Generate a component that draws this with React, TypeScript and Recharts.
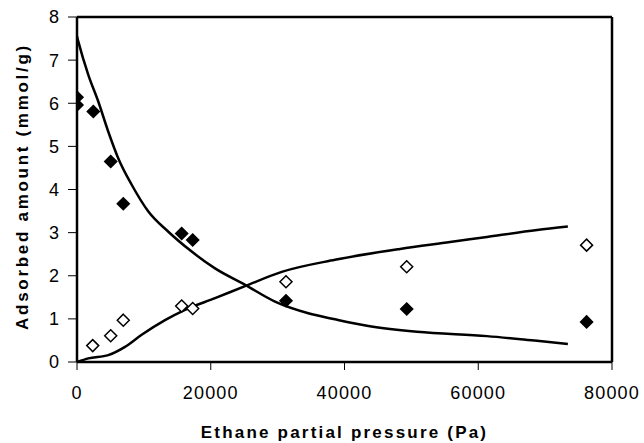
import React from 'react';
import { ComposedChart, XAxis, YAxis, Line, Scatter, ReferenceLine, Label } from 'recharts';

const xTicks = [0, 20000, 40000, 60000, 80000];
const yTicks = [0, 1, 2, 3, 4, 5, 6, 7, 8];

const filledX = [0, 0, 2440, 5040, 6920, 15650, 17300, 31250, 49300, 76200];
const filledY = [6.14, 5.96, 5.81, 4.65, 3.67, 2.98, 2.83, 1.42, 1.23, 0.93];

const openX = [2350, 5040, 6920, 15650, 17300, 31250, 49300, 76200];
const openY = [0.38, 0.61, 0.97, 1.3, 1.24, 1.86, 2.21, 2.71];

const decX = [0, 200, 1690, 3180, 4680, 6180, 8180, 10670, 13660, 17150, 20640, 25130, 29610, 34590, 38580, 43370, 50840, 61300, 68800, 73400];
const decY = [7.55, 7.43, 6.66, 6.04, 5.34, 4.72, 4.11, 3.49, 3.02, 2.56, 2.17, 1.79, 1.4, 1.13, 0.99, 0.84, 0.7, 0.6, 0.49, 0.42];

const incX = [0, 1690, 4680, 7180, 9670, 13160, 16150, 20640, 25130, 30610, 38580, 48300, 55780, 61300, 68800, 73400];
const incY = [0, 0.085, 0.16, 0.35, 0.63, 0.97, 1.21, 1.48, 1.76, 2.09, 2.37, 2.62, 2.78, 2.9, 3.06, 3.14];

const zip = (xs: number[], ys: number[]) => xs.map((x, i) => ({ x, y: ys[i] }));
const filledData = zip(filledX, filledY);
const openData = zip(openX, openY);
const decData = zip(decX, decY);
const incData = zip(incX, incY);

const FONT = '"Liberation Sans", Arial, sans-serif';

const Diamond = (props: any) => {
  const { cx, cy, fill, stroke } = props;
  const r = 6;
  return (
    <polygon
      points={`${cx},${cy - r} ${cx + r},${cy} ${cx},${cy + r} ${cx - r},${cy}`}
      fill={fill}
      stroke={stroke}
      strokeWidth={1.5}
    />
  );
};

const XTitle = (props: any) => {
  const vb = props.viewBox;
  return (
    <text x={vb.x + vb.width / 2} y={vb.y + 76} textAnchor="middle" fontFamily={FONT} fontWeight="bold" fontSize={17} letterSpacing={2.2} fill="#000">
      Ethane partial pressure (Pa)
    </text>
  );
};

const YTitle = (props: any) => {
  const vb = props.viewBox;
  const cx = 28;
  const cy = vb.y + vb.height / 2 - 3;
  return (
    <text x={cx} y={cy} transform={`rotate(-90, ${cx}, ${cy})`} textAnchor="middle" fontFamily={FONT} fontWeight="bold" fontSize={17} letterSpacing={2.7} fill="#000">
      Adsorbed amount (mmol/g)
    </text>
  );
};

export default function App() {
  return (
    <div style={{ position: 'absolute', left: 0, top: 0, background: '#fff' }}>
      <ComposedChart width={644} height={443} margin={{ top: 17, right: 32, bottom: 0, left: 0 }}>
        <XAxis
          type="number"
          dataKey="x"
          domain={[0, 80000]}
          ticks={xTicks}
          interval={0}
          allowDataOverflow
          height={81}
          axisLine={{ stroke: '#000', strokeWidth: 2.5 }}
          tickLine={{ stroke: '#000', strokeWidth: 1 }}
          tickSize={8}
          tickMargin={16}
          tick={{ fill: '#000', fontSize: 18, fontFamily: FONT, letterSpacing: 1.2 }}
        >
          <Label content={<XTitle />} />
        </XAxis>
        <YAxis
          type="number"
          dataKey="y"
          domain={[0, 8]}
          ticks={yTicks}
          interval={0}
          allowDataOverflow
          width={77}
          axisLine={{ stroke: '#000', strokeWidth: 2.5 }}
          tickLine={{ stroke: '#000', strokeWidth: 1 }}
          tickSize={9}
          tickMargin={9}
          tick={{ fill: '#000', fontSize: 18, fontFamily: FONT }}
        >
          <Label content={<YTitle />} />
        </YAxis>
        <ReferenceLine y={8} stroke="#000" strokeWidth={2.5} />
        <ReferenceLine x={80000} stroke="#000" strokeWidth={2.5} />
        <Line data={decData} dataKey="y" type="monotone" dot={false} stroke="#000" strokeWidth={2.5} isAnimationActive={false} />
        <Line data={incData} dataKey="y" type="monotone" dot={false} stroke="#000" strokeWidth={2.5} isAnimationActive={false} />
        <Scatter data={filledData} dataKey="y" fill="#000" stroke="#000" shape={<Diamond />} isAnimationActive={false} />
        <Scatter data={openData} dataKey="y" fill="#fff" stroke="#000" shape={<Diamond />} isAnimationActive={false} />
      </ComposedChart>
    </div>
  );
}
